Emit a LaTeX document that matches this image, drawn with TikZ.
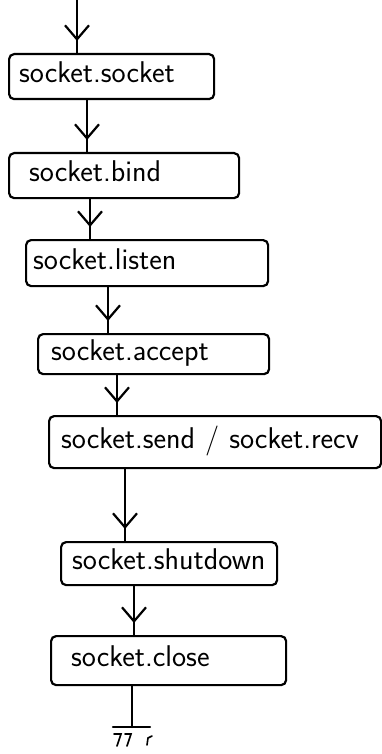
\documentclass[tikz,border=0pt]{standalone}
\usetikzlibrary{arrows.meta,decorations.markings}
\begin{document}
\begin{tikzpicture}[x=1pt,y=-1pt,
  box/.style={draw, line width=2.2pt, rounded corners=5pt, anchor=north west,
    align=left, inner ysep=0pt, text height=19pt, text depth=7pt,
    font=\sffamily\fontsize{30}{32}\selectfont},
  flow/.style={line width=2.2pt, postaction={decorate},
    decoration={markings, mark=at position -12pt with
      {\arrow{Straight Barb[length=14pt,width=24pt]}}}},
  line/.style={line width=2.2pt, line cap=round}]
\useasboundingbox (0,0) rectangle (382,754);

% call sequence of a server socket
\node[box, minimum height=45pt, inner xsep=10pt, text width=185pt] (b1) at (8,53)  {socket.socket};
\node[box, minimum height=45pt, inner xsep=20pt, text width=190pt] (b2) at (8,152) {socket.bind};
\node[box, minimum height=46pt, inner xsep=7pt,  text width=228pt] (b3) at (25,239) {socket.listen};
\node[box, minimum height=40pt, inner xsep=13pt, text width=205pt] (b4) at (37,333) {socket.accept};
\node[box, minimum height=52pt, inner xsep=12pt, text width=308pt] (b5) at (48,415) {socket.send / socket.recv};
\node[box, minimum height=43pt, inner xsep=11pt, text width=194pt] (b6) at (60,541) {socket.shutdown};
\node[box, minimum height=49pt, inner xsep=20pt, text width=195pt] (b7) at (50,635) {socket.close};

% entry and end points
\coordinate (start) at (77,0);
\coordinate (gnd) at (132,727);

% connectors
\draw[flow] (start) -- (start |- b1.north);
\draw[flow] ([xshift=79pt]b1.south west) -- ([xshift=79pt]b2.north west);
\draw[flow] ([xshift=82pt]b2.south west) -- ([xshift=65pt]b3.north west);
\draw[flow] ([xshift=83pt]b3.south west) -- ([xshift=71pt]b4.north west);
\draw[flow] ([xshift=80pt]b4.south west) -- ([xshift=69pt]b5.north west);
\draw[flow] ([xshift=77pt]b5.south west) -- ([xshift=65pt]b6.north west);
\draw[flow] ([xshift=74pt]b6.south west) -- ([xshift=84pt]b7.north west);
\draw[line] ([xshift=82pt]b7.south west) -- (gnd);

% ground mark
\draw[line] ([xshift=-19pt]gnd) -- ([xshift=18pt]gnd);
\draw[line, line width=1.6pt] (114,734) -- (121,734) -- (117,746);
\draw[line, line width=1.6pt] (125,734) -- (131,734) -- (127,746);
\draw[line, line width=1.6pt] (147,745) -- (148,738) -- (152,736);
\end{tikzpicture}
\end{document}
